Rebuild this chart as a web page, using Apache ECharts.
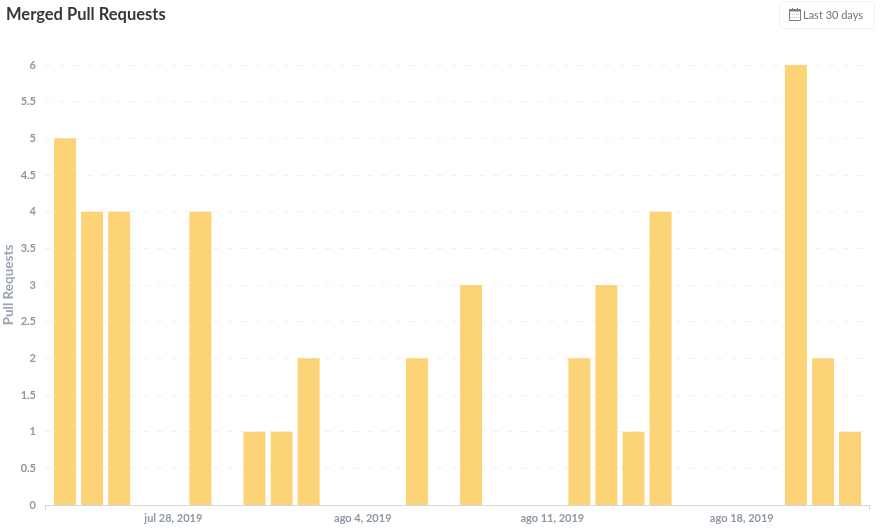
<!DOCTYPE html>
<html>
<head>
<meta charset="utf-8">
<title>Merged Pull Requests</title>
<script src="https://cdn.jsdelivr.net/npm/echarts@6/dist/echarts.min.js"></script>
<style>
html, body { margin: 0; padding: 0; background: #fff; }
#container { width: 880px; height: 531px; }
</style>
</head>
<body>
<div id="container"></div>
<script>
// day number counted from Jul 24 2019, one bar per day
const days = [0,1,2,3,4,5,6,7,8,9,10,11,12,13,14,15,16,17,18,19,20,21,22,23,24,25,26,27,28,29];
const merged = [5,4,4,0,0,4,0,1,1,2,0,0,0,2,0,3,0,0,0,2,3,1,4,0,0,0,0,6,2,1];
const tickDays = [4,11,18,25];
const tickLabels = ['jul 28, 2019','ago 4, 2019','ago 11, 2019','ago 18, 2019'];

const labelFont = 'Lato, "Noto Sans", sans-serif';
const xMin = -0.74;
const xMax = 29.7;

const chart = echarts.init(document.getElementById('container'), null, { renderer: 'canvas' });
chart.setOption({
  animation: false,
  title: {
    text: 'Merged Pull Requests',
    left: 6, top: 6, padding: 0,
    textStyle: { fontFamily: labelFont, fontSize: 16.5, fontWeight: 'bold', color: '#33383d' }
  },
  grid: { left: 45, right: 11, top: 65, bottom: 26, outerBoundsMode: 'none' },
  xAxis: {
    type: 'value',
    min: xMin,
    max: xMax,
    axisLine: { show: true, lineStyle: { color: '#d5d9dc', width: 1 } },
    axisTick: { show: true, customValues: [xMin, xMax], length: 5, lineStyle: { color: '#d5d9dc' } },
    splitLine: { show: false },
    axisLabel: {
      customValues: tickDays,
      formatter: v => tickLabels[tickDays.indexOf(v)],
      color: '#8c98a4',
      fontFamily: labelFont,
      fontSize: 11,
      fontWeight: 'bold',
      margin: 8
    }
  },
  yAxis: {
    type: 'value',
    min: 0, max: 6, interval: 0.5,
    name: 'Pull Requests',
    nameLocation: 'middle',
    nameGap: 29,
    nameMoveOverlap: false,
    nameTextStyle: { color: '#98a6b3', fontFamily: labelFont, fontSize: 13.5, fontWeight: 'bold' },
    axisLine: { show: false },
    axisTick: { show: false },
    axisLabel: { color: '#8c98a4', fontFamily: labelFont, fontSize: 11, fontWeight: 'bold', margin: 9 },
    splitLine: { lineStyle: { color: '#f1f2f3', type: [6, 8] } }
  },
  series: [{
    name: 'Merged Pull Requests',
    type: 'bar',
    barWidth: 22,
    itemStyle: { color: '#fcd376' },
    data: days.map((d, i) => [d, merged[i]])
  }],
  // date range button, top right
  graphic: [
    { type: 'rect', shape: { x: 779.5, y: 1.5, width: 95, height: 27, r: 3 }, style: { fill: '#fff', stroke: '#eef0f2' } },
    { type: 'rect', shape: { x: 789.5, y: 9.5, width: 11, height: 11 }, style: { fill: '#fff', stroke: '#76818c' } },
    { type: 'rect', shape: { x: 789.5, y: 9.5, width: 11, height: 2 }, style: { fill: '#76818c' } },
    { type: 'line', shape: { x1: 792.5, y1: 8, x2: 792.5, y2: 11 }, style: { stroke: '#76818c' } },
    { type: 'line', shape: { x1: 797.5, y1: 8, x2: 797.5, y2: 11 }, style: { stroke: '#76818c' } },
    { type: 'line', shape: { x1: 790, y1: 14.5, x2: 800, y2: 14.5 }, style: { stroke: '#b5bcc3', lineDash: [1, 1] } },
    { type: 'line', shape: { x1: 790, y1: 17.5, x2: 800, y2: 17.5 }, style: { stroke: '#b5bcc3', lineDash: [1, 1] } },
    { type: 'text', x: 803, y: 15, style: { text: 'Last 30 days', fill: '#68747f', font: '11px ' + labelFont, textVerticalAlign: 'middle' } }
  ]
});
</script>
</body>
</html>
